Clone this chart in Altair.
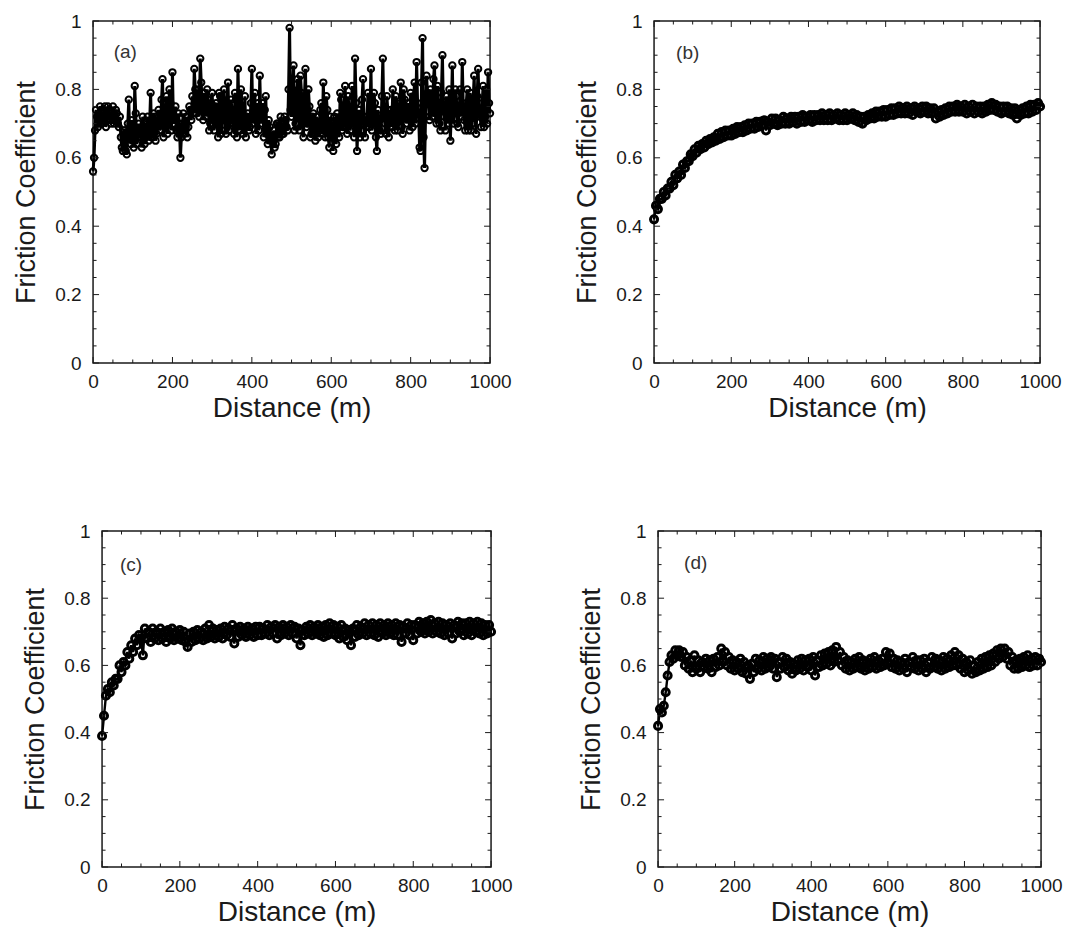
import altair as alt
import pandas as pd

# ---------------- data ----------------
DIST = list(range(0, 1001, 5))                     # 0, 5, ..., 1000 m
DIST_MID = [2.5 + 5 * k for k in range(200)]       # 2.5, 7.5, ..., 997.5 m

# panel (a): readings at 0, 5, 10 ... m
MU_A = [
    0.56, 0.68, 0.72, 0.70, 0.74, 0.71, 0.75, 0.72, 0.74, 0.70,
    0.75, 0.71, 0.73, 0.69, 0.66, 0.62, 0.68, 0.61, 0.77, 0.64,
    0.68, 0.81, 0.64, 0.70, 0.66, 0.72, 0.64, 0.69, 0.65, 0.79,
    0.66, 0.72, 0.67, 0.74, 0.70, 0.83, 0.69, 0.78, 0.70, 0.76,
    0.85, 0.71, 0.68, 0.73, 0.60, 0.70, 0.67, 0.72, 0.69, 0.74,
    0.78, 0.86, 0.73, 0.80, 0.89, 0.74, 0.79, 0.72, 0.77, 0.70,
    0.79, 0.68, 0.76, 0.66, 0.78, 0.71, 0.80, 0.67, 0.82, 0.70,
    0.74, 0.67, 0.77, 0.86, 0.68, 0.75, 0.70, 0.66, 0.73, 0.69,
    0.86, 0.72, 0.67, 0.76, 0.84, 0.70, 0.66, 0.78, 0.64, 0.69,
    0.61, 0.68, 0.64, 0.70, 0.66, 0.69, 0.67, 0.71, 0.68, 0.98,
    0.72, 0.87, 0.70, 0.83, 0.68, 0.79, 0.66, 0.86, 0.70, 0.75,
    0.67, 0.73, 0.65, 0.70, 0.68, 0.76, 0.82, 0.66, 0.74, 0.63,
    0.70, 0.62, 0.68, 0.73, 0.66, 0.77, 0.69, 0.81, 0.67, 0.74,
    0.70, 0.78, 0.89, 0.62, 0.74, 0.68, 0.83, 0.66, 0.72, 0.69,
    0.86, 0.70, 0.76, 0.62, 0.71, 0.67, 0.89, 0.70, 0.78, 0.66,
    0.74, 0.80, 0.68, 0.76, 0.71, 0.82, 0.67, 0.77, 0.70, 0.73,
    0.79, 0.69, 0.82, 0.88, 0.73, 0.62, 0.95, 0.57, 0.84, 0.76,
    0.80, 0.72, 0.87, 0.70, 0.76, 0.68, 0.90, 0.72, 0.78, 0.70,
    0.65, 0.87, 0.73, 0.78, 0.69, 0.80, 0.88, 0.71, 0.76, 0.68,
    0.79, 0.70, 0.84, 0.67, 0.86, 0.72, 0.76, 0.69, 0.80, 0.85,
    0.73,
]

# panel (a): readings at 2.5, 7.5, 12.5 ... m
MU_A_MID = [
    0.60, 0.74, 0.69, 0.75, 0.70, 0.73, 0.69, 0.75, 0.71, 0.73,
    0.70, 0.74, 0.70, 0.72, 0.63, 0.68, 0.62, 0.70, 0.66, 0.71,
    0.63, 0.73, 0.66, 0.68, 0.63, 0.70, 0.66, 0.72, 0.70, 0.66,
    0.73, 0.65, 0.71, 0.68, 0.77, 0.66, 0.74, 0.67, 0.80, 0.68,
    0.70, 0.75, 0.66, 0.70, 0.66, 0.73, 0.69, 0.66, 0.75, 0.71,
    0.73, 0.80, 0.76, 0.72, 0.82, 0.71, 0.76, 0.80, 0.68, 0.76,
    0.71, 0.75, 0.70, 0.79, 0.67, 0.77, 0.68, 0.76, 0.68, 0.77,
    0.70, 0.79, 0.66, 0.74, 0.80, 0.67, 0.78, 0.72, 0.68, 0.76,
    0.70, 0.79, 0.74, 0.68, 0.72, 0.76, 0.74, 0.67, 0.71, 0.65,
    0.66, 0.63, 0.70, 0.66, 0.72, 0.67, 0.72, 0.69, 0.80, 0.74,
    0.80, 0.68, 0.77, 0.72, 0.84, 0.70, 0.78, 0.69, 0.80, 0.66,
    0.72, 0.68, 0.72, 0.66, 0.74, 0.67, 0.70, 0.78, 0.66, 0.72,
    0.66, 0.72, 0.64, 0.69, 0.79, 0.68, 0.75, 0.70, 0.78, 0.68,
    0.81, 0.66, 0.76, 0.71, 0.66, 0.77, 0.71, 0.69, 0.79, 0.73,
    0.68, 0.79, 0.66, 0.74, 0.68, 0.78, 0.72, 0.67, 0.74, 0.72,
    0.69, 0.73, 0.78, 0.68, 0.75, 0.69, 0.80, 0.72, 0.76, 0.68,
    0.73, 0.78, 0.70, 0.76, 0.63, 0.82, 0.66, 0.72, 0.79, 0.71,
    0.75, 0.83, 0.73, 0.81, 0.70, 0.79, 0.74, 0.68, 0.75, 0.80,
    0.74, 0.70, 0.80, 0.70, 0.75, 0.72, 0.75, 0.68, 0.80, 0.74,
    0.68, 0.77, 0.72, 0.78, 0.74, 0.69, 0.81, 0.72, 0.70, 0.76,
]

MU_B = [
    0.42, 0.46, 0.45, 0.48, 0.48, 0.50, 0.49, 0.51, 0.51, 0.53,
    0.52, 0.55, 0.54, 0.56, 0.55, 0.58, 0.57, 0.59, 0.59, 0.61,
    0.605, 0.625, 0.615, 0.635, 0.625, 0.64, 0.63, 0.65, 0.64, 0.655,
    0.645, 0.66, 0.65, 0.67, 0.655, 0.675, 0.66, 0.68, 0.665, 0.68,
    0.665, 0.685, 0.67, 0.69, 0.675, 0.69, 0.675, 0.695, 0.68, 0.70,
    0.685, 0.70, 0.685, 0.705, 0.69, 0.705, 0.695, 0.71, 0.68, 0.705,
    0.695, 0.715, 0.70, 0.715, 0.695, 0.71, 0.70, 0.72, 0.70, 0.715,
    0.70, 0.72, 0.705, 0.72, 0.70, 0.72, 0.705, 0.725, 0.705, 0.72,
    0.71, 0.725, 0.705, 0.725, 0.71, 0.725, 0.71, 0.73, 0.71, 0.725,
    0.71, 0.73, 0.71, 0.725, 0.715, 0.73, 0.71, 0.725, 0.71, 0.73,
    0.71, 0.725, 0.715, 0.73, 0.71, 0.725, 0.705, 0.72, 0.70, 0.72,
    0.71, 0.725, 0.715, 0.73, 0.715, 0.735, 0.72, 0.735, 0.72, 0.74,
    0.72, 0.74, 0.725, 0.745, 0.725, 0.745, 0.73, 0.75, 0.73, 0.745,
    0.73, 0.75, 0.73, 0.745, 0.725, 0.75, 0.735, 0.745, 0.73, 0.75,
    0.735, 0.75, 0.73, 0.745, 0.73, 0.745, 0.715, 0.735, 0.72, 0.74,
    0.725, 0.745, 0.73, 0.75, 0.735, 0.75, 0.735, 0.755, 0.735, 0.75,
    0.735, 0.755, 0.73, 0.75, 0.735, 0.755, 0.73, 0.75, 0.735, 0.75,
    0.73, 0.75, 0.735, 0.755, 0.74, 0.76, 0.74, 0.755, 0.735, 0.75,
    0.73, 0.75, 0.735, 0.75, 0.73, 0.745, 0.725, 0.745, 0.715, 0.74,
    0.725, 0.745, 0.73, 0.75, 0.73, 0.755, 0.735, 0.755, 0.74, 0.76,
    0.75,
]

MU_C = [
    0.39, 0.45, 0.51, 0.53, 0.52, 0.55, 0.54, 0.56, 0.56, 0.60,
    0.58, 0.61, 0.60, 0.64, 0.62, 0.66, 0.64, 0.68, 0.66, 0.69,
    0.68, 0.63, 0.71, 0.68, 0.70, 0.67, 0.71, 0.68, 0.70, 0.675,
    0.71, 0.68, 0.70, 0.67, 0.705, 0.68, 0.71, 0.675, 0.70, 0.68,
    0.705, 0.675, 0.70, 0.67, 0.655, 0.695, 0.67, 0.70, 0.675, 0.705,
    0.68, 0.70, 0.675, 0.71, 0.68, 0.72, 0.685, 0.71, 0.68, 0.705,
    0.685, 0.71, 0.68, 0.715, 0.69, 0.71, 0.685, 0.72, 0.665, 0.71,
    0.685, 0.715, 0.69, 0.71, 0.685, 0.715, 0.69, 0.71, 0.685, 0.715,
    0.69, 0.715, 0.69, 0.71, 0.695, 0.72, 0.69, 0.715, 0.695, 0.72,
    0.68, 0.715, 0.69, 0.72, 0.695, 0.715, 0.69, 0.72, 0.695, 0.715,
    0.68, 0.71, 0.66, 0.705, 0.69, 0.715, 0.695, 0.72, 0.69, 0.715,
    0.695, 0.72, 0.69, 0.715, 0.685, 0.72, 0.69, 0.725, 0.695, 0.72,
    0.69, 0.715, 0.68, 0.72, 0.685, 0.71, 0.675, 0.705, 0.66, 0.71,
    0.685, 0.72, 0.69, 0.715, 0.695, 0.725, 0.69, 0.72, 0.695, 0.725,
    0.69, 0.72, 0.685, 0.725, 0.695, 0.72, 0.69, 0.725, 0.695, 0.72,
    0.69, 0.725, 0.69, 0.72, 0.67, 0.715, 0.695, 0.725, 0.69, 0.72,
    0.675, 0.72, 0.695, 0.73, 0.70, 0.725, 0.695, 0.73, 0.70, 0.735,
    0.695, 0.725, 0.70, 0.73, 0.695, 0.725, 0.69, 0.72, 0.695, 0.725,
    0.68, 0.72, 0.695, 0.73, 0.70, 0.725, 0.69, 0.725, 0.695, 0.73,
    0.69, 0.725, 0.70, 0.73, 0.695, 0.725, 0.69, 0.72, 0.695, 0.72,
    0.70,
]

MU_D = [
    0.42, 0.47, 0.46, 0.48, 0.52, 0.57, 0.61, 0.63, 0.62, 0.645,
    0.63, 0.645, 0.625, 0.64, 0.60, 0.625, 0.59, 0.615, 0.58, 0.63,
    0.59, 0.615, 0.58, 0.61, 0.595, 0.62, 0.59, 0.615, 0.58, 0.62,
    0.595, 0.625, 0.60, 0.65, 0.61, 0.64, 0.60, 0.625, 0.59, 0.615,
    0.585, 0.61, 0.59, 0.62, 0.58, 0.61, 0.575, 0.60, 0.56, 0.605,
    0.58, 0.62, 0.59, 0.615, 0.585, 0.625, 0.59, 0.62, 0.595, 0.625,
    0.59, 0.62, 0.565, 0.61, 0.59, 0.625, 0.595, 0.62, 0.585, 0.61,
    0.575, 0.605, 0.585, 0.615, 0.59, 0.62, 0.585, 0.615, 0.595, 0.62,
    0.585, 0.625, 0.57, 0.615, 0.595, 0.63, 0.60, 0.635, 0.605, 0.64,
    0.60, 0.645, 0.61, 0.655, 0.615, 0.64, 0.60, 0.625, 0.59, 0.615,
    0.585, 0.61, 0.59, 0.62, 0.595, 0.625, 0.59, 0.615, 0.585, 0.61,
    0.59, 0.62, 0.595, 0.625, 0.59, 0.615, 0.595, 0.62, 0.60, 0.64,
    0.605, 0.635, 0.595, 0.62, 0.59, 0.615, 0.585, 0.61, 0.59, 0.62,
    0.58, 0.61, 0.595, 0.625, 0.59, 0.615, 0.585, 0.615, 0.59, 0.62,
    0.58, 0.61, 0.59, 0.625, 0.595, 0.62, 0.59, 0.615, 0.585, 0.625,
    0.59, 0.62, 0.595, 0.63, 0.60, 0.64, 0.60, 0.63, 0.59, 0.62,
    0.58, 0.61, 0.585, 0.615, 0.575, 0.60, 0.58, 0.61, 0.585, 0.62,
    0.59, 0.625, 0.595, 0.63, 0.60, 0.635, 0.61, 0.645, 0.62, 0.65,
    0.625, 0.65, 0.62, 0.64, 0.60, 0.625, 0.59, 0.615, 0.59, 0.62,
    0.595, 0.625, 0.60, 0.63, 0.595, 0.62, 0.60, 0.625, 0.60, 0.62,
    0.61,
]

X_MAJOR = [0, 200, 400, 600, 800, 1000]
X_MINOR = [50, 100, 150, 250, 300, 350, 450, 500, 550, 650, 700, 750, 850, 900, 950]
Y_MAJOR = [0, 0.2, 0.4, 0.6, 0.8, 1.0]
Y_MINOR = [0.05, 0.1, 0.15, 0.25, 0.3, 0.35, 0.45, 0.5, 0.55,
           0.65, 0.7, 0.75, 0.85, 0.9, 0.95]

FONT = "Liberation Sans"
INK = "#1a1a1a"


def panel(dist, mu, tag, w, h, tag_x, tag_y, pt_size, pt_stroke, line_w, spacer=None):
    df = pd.DataFrame({"d": dist, "mu": mu}).sort_values("d")
    xs = alt.Scale(domain=[0, 1000], nice=False, zero=False)
    ys = alt.Scale(domain=[0, 1], nice=False, zero=False)
    xax = alt.Axis(values=X_MAJOR, title="Distance (m)", format="d", ticks=False,
                   domain=False, grid=False, labelFlush=False, labelPadding=9,
                   titlePadding=3, labelFontSize=19, titleFontSize=28,
                   labelFont=FONT, titleFont=FONT, labelColor=INK, titleColor=INK,
                   titleFontWeight="normal", labelOverlap=False)
    yax = alt.Axis(values=Y_MAJOR, title="Friction Coefficient", format="~g",
                   ticks=False, domain=False, grid=False,
                   labelFlush=False, labelPadding=12, titlePadding=14,
                   labelFontSize=19, titleFontSize=27, labelFont=FONT,
                   titleFont=FONT, labelColor=INK, titleColor=INK,
                   titleFontWeight="normal", labelOverlap=False)
    X = alt.X("d:Q", scale=xs, axis=xax)
    Y = alt.Y("mu:Q", scale=ys, axis=yax)
    base = alt.Chart(df)
    line = base.mark_line(color="black", strokeWidth=line_w).encode(x=X, y=Y)
    pts = base.mark_point(shape="circle", filled=False, color="black",
                          size=pt_size, strokeWidth=pt_stroke, opacity=1).encode(x=X, y=Y)

    def xt(vals, length, top):
        c = alt.Chart(pd.DataFrame({"d": vals})).mark_rule(color=INK, strokeWidth=1)
        if top:
            return c.encode(x=X, y=alt.value(0), y2=alt.value(length))
        return c.encode(x=X, y=alt.value(h), y2=alt.value(h - length))

    def yt(vals, length, right):
        c = alt.Chart(pd.DataFrame({"mu": vals})).mark_rule(color=INK, strokeWidth=1)
        if right:
            return c.encode(y=Y, x=alt.value(w), x2=alt.value(w - length))
        return c.encode(y=Y, x=alt.value(0), x2=alt.value(length))

    ticks = [xt(X_MAJOR, 6, False), xt(X_MINOR, 3.5, False),
             xt(X_MAJOR, 6, True), xt(X_MINOR, 3.5, True),
             yt(Y_MAJOR, 6, False), yt(Y_MINOR, 3.5, False),
             yt(Y_MAJOR, 6, True), yt(Y_MINOR, 3.5, True)]

    label = alt.Chart(pd.DataFrame({"d": [tag_x], "mu": [tag_y], "t": [tag]})).mark_text(
        align="left", baseline="middle", fontSize=19, font=FONT, color="#333"
    ).encode(x=X, y=Y, text="t:N")

    props = dict(width=w, height=h)
    if spacer is not None:
        props["title"] = alt.TitleParams(text=" ", orient=spacer[0], fontSize=spacer[1],
                                         offset=spacer[2])
    return alt.layer(line, pts, *ticks, label).properties(**props)


pa = panel(DIST + DIST_MID, MU_A + MU_A_MID, "(a)", 397, 342, 52, 0.91, 40, 2.0, 3.0)
pb = panel(DIST, MU_B, "(b)", 386, 342, 57, 0.905, 50, 3.0, 2.4, spacer=("right", 8, 2))
pc = panel(DIST, MU_C, "(c)", 389, 336, 46, 0.90, 50, 3.0, 2.4)
pd_ = panel(DIST, MU_D, "(d)", 383, 336, 68, 0.905, 50, 3.0, 2.4)

row1 = alt.hconcat(pa, pb, spacing=60)
row2 = alt.hconcat(pc, pd_, spacing=63)

chart = alt.vconcat(row1, row2, spacing=98, center=True).properties(
    padding={"left": 11, "top": 11, "right": 5, "bottom": 5},
    background="white",
).configure_view(stroke=INK, strokeWidth=1.5)

chart.save("out.html", embed_options={"renderer": "svg", "actions": False})
